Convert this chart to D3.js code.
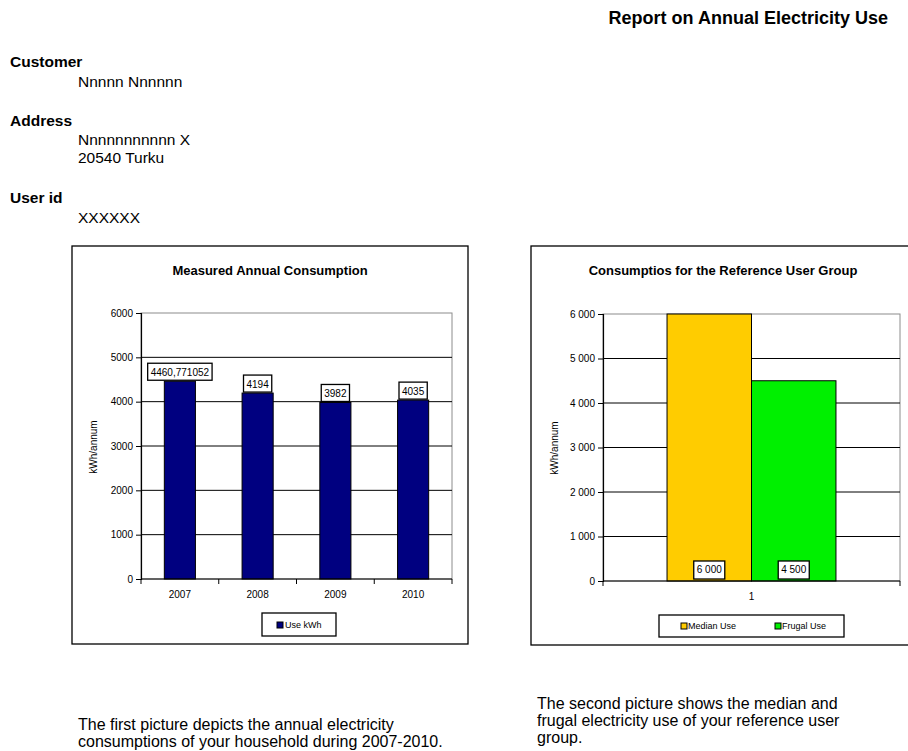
<!DOCTYPE html>
<html>
<head>
<meta charset="utf-8">
<script src="https://cdn.jsdelivr.net/npm/d3@7"></script>
<style>
  html, body { margin: 0; padding: 0; background: #fff; }
  svg { display: block; font-family: "Liberation Sans", Arial, sans-serif; }
</style>
</head>
<body>
<svg id="page" width="908" height="751"></svg>
<script>
// Measured annual consumption per year (kWh)
const years = ["2007", "2008", "2009", "2010"];
const annualUse = [4460.771052, 4194, 3982, 4035];

// Reference user group
const refCategories = ["1"];
const refSeries = ["Median Use", "Frugal Use"];
const refValues = [6000, 4500];
const refColors = ["#FFCC00", "#00F000"];

const yTicks = [0, 1000, 2000, 3000, 4000, 5000, 6000];

const svg = d3.select("#page");
svg.append("rect").attr("width", 908).attr("height", 751).attr("fill", "#fff");

// ---- Report header ----
svg.append("text").attr("x", 888).attr("y", 24).attr("text-anchor", "end")
  .attr("font-size", 18).attr("font-weight", "bold").text("Report on Annual Electricity Use");

const info = [
  { t: "Customer", x: 10, y: 67, b: true },
  { t: "Nnnnn Nnnnnn", x: 78, y: 87 },
  { t: "Address", x: 10, y: 126, b: true },
  { t: "Nnnnnnnnnnn X", x: 78, y: 145 },
  { t: "20540 Turku", x: 78, y: 163 },
  { t: "User id", x: 10, y: 203, b: true },
  { t: "XXXXXX", x: 78, y: 223 }
];
svg.selectAll("text.info").data(info).join("text").attr("class", "info")
  .attr("x", d => d.x).attr("y", d => d.y).attr("font-size", 15.5)
  .attr("font-weight", d => d.b ? "bold" : "normal").text(d => d.t);

// ---- Captions ----
const captions = [
  { t: "The first picture depicts the annual electricity", x: 78, y: 730 },
  { t: "consumptions of your household during 2007-2010.", x: 78, y: 747 },
  { t: "The second picture shows the median and", x: 537, y: 709 },
  { t: "frugal electricity use of your reference user", x: 537, y: 726 },
  { t: "group.", x: 537, y: 743 }
];
svg.selectAll("text.cap").data(captions).join("text").attr("class", "cap")
  .attr("x", d => d.x).attr("y", d => d.y).attr("font-size", 16).text(d => d.t);

// shared pieces
function chartFrame(x0, y0, x1, y1) {
  svg.append("rect").attr("x", x0).attr("y", y0).attr("width", x1 - x0).attr("height", y1 - y0)
    .attr("fill", "#fff").attr("stroke", "#000").attr("stroke-width", 1.3);
}

function plotArea(g, x, y, fmt) {
  const [l, r] = x.range();
  const [b, t] = y.range();
  g.append("rect").attr("x", l).attr("y", t).attr("width", r - l).attr("height", b - t)
    .attr("fill", "#fff").attr("stroke", "#8c8c8c").attr("stroke-width", 1);
  g.selectAll("line.grid").data(yTicks.filter(v => v > 0 && v < 6000)).join("line")
    .attr("class", "grid").attr("x1", l).attr("x2", r)
    .attr("y1", d => y(d)).attr("y2", d => y(d)).attr("stroke", "#000").attr("stroke-width", 1);
  const ax = g.append("g").attr("transform", `translate(${l},0)`)
    .call(d3.axisLeft(y).tickValues(yTicks).tickFormat(fmt).tickSize(5).tickPadding(3));
  ax.select(".domain").attr("stroke", "#000").attr("stroke-width", 1.2);
  ax.selectAll(".tick line").attr("stroke", "#000");
  ax.selectAll(".tick text").attr("font-size", 10).attr("fill", "#000")
    .attr("font-family", "Liberation Sans, Arial, sans-serif");
}

function yTitle(x, yc) {
  svg.append("text").attr("transform", `translate(${x},${yc}) rotate(-90)`)
    .attr("text-anchor", "middle").attr("font-size", 10).text("kWh/annum");
}

// ---- Chart 1: Measured Annual Consumption ----
chartFrame(72, 246, 468, 644);
svg.append("text").attr("x", 270).attr("y", 275).attr("text-anchor", "middle")
  .attr("font-size", 13).attr("font-weight", "bold").text("Measured Annual Consumption");

const x1 = d3.scaleBand().domain(years).range([141, 452]).paddingInner(0.6).paddingOuter(0.3);
const y1 = d3.scaleLinear().domain([0, 6000]).range([579, 313]);
const g1 = svg.append("g");
plotArea(g1, x1, y1, d3.format("d"));

g1.selectAll("rect.bar").data(annualUse).join("rect").attr("class", "bar")
  .attr("x", (d, i) => x1(years[i])).attr("width", x1.bandwidth())
  .attr("y", d => y1(d)).attr("height", d => y1(0) - y1(d))
  .attr("fill", "#000080").attr("stroke", "#000").attr("stroke-width", 1);

// x axis line with ticks between categories
g1.append("line").attr("x1", 141).attr("x2", 452).attr("y1", y1(0)).attr("y2", y1(0))
  .attr("stroke", "#000").attr("stroke-width", 1.2);
const bounds1 = d3.range(years.length + 1).map(i => x1.range()[0] + i * x1.step());
g1.selectAll("line.xt").data(bounds1).join("line").attr("class", "xt")
  .attr("x1", d => d).attr("x2", d => d).attr("y1", y1(0)).attr("y2", y1(0) + 5).attr("stroke", "#000");
g1.selectAll("text.xl").data(years).join("text").attr("class", "xl")
  .attr("x", d => x1(d) + x1.bandwidth() / 2).attr("y", 598).attr("text-anchor", "middle")
  .attr("font-size", 10).text(d => d);

// value labels on top of bars
const lab1 = g1.selectAll("g.lab").data(annualUse).join("g").attr("class", "lab");
lab1.each(function (d, i) {
  const g = d3.select(this);
  const cx = x1(years[i]) + x1.bandwidth() / 2;
  const txt = String(d).replace(".", ",");
  const t = g.append("text").attr("x", cx).attr("y", y1(d) - 5).attr("text-anchor", "middle")
    .attr("font-size", 10).text(txt);
  const w = t.node().getComputedTextLength() + 6;
  g.insert("rect", "text").attr("x", cx - w / 2).attr("y", y1(d) - 18).attr("width", w).attr("height", 17)
    .attr("fill", "#fff").attr("stroke", "#000").attr("stroke-width", 1.3);
});

yTitle(97, 447);

// legend
svg.append("rect").attr("x", 262).attr("y", 613).attr("width", 74).attr("height", 23)
  .attr("fill", "#fff").attr("stroke", "#000").attr("stroke-width", 1.3);
svg.append("rect").attr("x", 277).attr("y", 622).attr("width", 6).attr("height", 6)
  .attr("fill", "#000080").attr("stroke", "#000");
svg.append("text").attr("x", 285).attr("y", 628).attr("font-size", 9).text("Use kWh");

// ---- Chart 2: Consumptios for the Reference User Group ----
svg.append("rect").attr("x", 531).attr("y", 246).attr("width", 400).attr("height", 399)
  .attr("fill", "#fff").attr("stroke", "#000").attr("stroke-width", 1.3);
svg.append("text").attr("x", 723).attr("y", 275).attr("text-anchor", "middle")
  .attr("font-size", 13).attr("font-weight", "bold").text("Consumptios for the Reference User Group");

const x2 = d3.scaleBand().domain(refCategories).range([603, 900]).paddingInner(0).paddingOuter(0.379);
const xs = d3.scaleBand().domain(refSeries).range([0, x2.bandwidth()]).padding(0);
const y2 = d3.scaleLinear().domain([0, 6000]).range([581, 314]);
const spaced = d3.formatLocale({ decimal: ",", thousands: "\u00a0", grouping: [3], currency: ["", ""] }).format(",d");
const g2 = svg.append("g");
plotArea(g2, x2, y2, spaced);

g2.selectAll("rect.bar").data(refValues).join("rect").attr("class", "bar")
  .attr("x", (d, i) => x2("1") + xs(refSeries[i])).attr("width", xs.bandwidth())
  .attr("y", d => y2(d)).attr("height", d => y2(0) - y2(d))
  .attr("fill", (d, i) => refColors[i]).attr("stroke", "#000").attr("stroke-width", 1);

g2.append("line").attr("x1", 603).attr("x2", 900).attr("y1", y2(0)).attr("y2", y2(0))
  .attr("stroke", "#000").attr("stroke-width", 1.2);
g2.selectAll("line.xt").data(x2.range()).join("line").attr("class", "xt")
  .attr("x1", d => d).attr("x2", d => d).attr("y1", y2(0)).attr("y2", y2(0) + 5).attr("stroke", "#000");
g2.selectAll("text.xl").data(refCategories).join("text").attr("class", "xl")
  .attr("x", d => x2(d) + x2.bandwidth() / 2).attr("y", 600).attr("text-anchor", "middle")
  .attr("font-size", 10).text(d => d);

// value labels at the base of the bars
const lab2 = g2.selectAll("g.lab").data(refValues).join("g").attr("class", "lab");
lab2.each(function (d, i) {
  const g = d3.select(this);
  const cx = x2("1") + xs(refSeries[i]) + xs.bandwidth() / 2;
  const t = g.append("text").attr("x", cx).attr("y", 573).attr("text-anchor", "middle")
    .attr("font-size", 10).text(spaced(d));
  const w = t.node().getComputedTextLength() + 6;
  g.insert("rect", "text").attr("x", cx - w / 2).attr("y", 561).attr("width", w).attr("height", 18)
    .attr("fill", "#fff").attr("stroke", "#000").attr("stroke-width", 1.3);
});

yTitle(558, 448);

// legend
svg.append("rect").attr("x", 659).attr("y", 615).attr("width", 185).attr("height", 22)
  .attr("fill", "#fff").attr("stroke", "#000").attr("stroke-width", 1.3);
const leg2 = [{ x: 681, i: 0 }, { x: 775, i: 1 }];
leg2.forEach(o => {
  svg.append("rect").attr("x", o.x).attr("y", 623).attr("width", 6).attr("height", 6)
    .attr("fill", refColors[o.i]).attr("stroke", "#000");
  svg.append("text").attr("x", o.x + 7).attr("y", 629).attr("font-size", 9).text(refSeries[o.i]);
});
</script>
</body>
</html>
